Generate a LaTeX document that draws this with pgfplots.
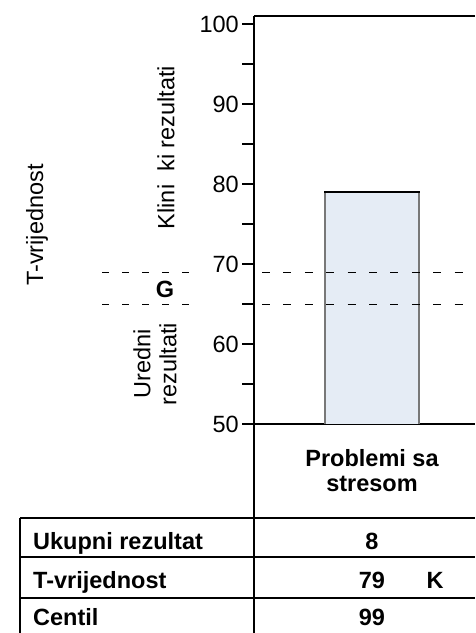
\documentclass[border=0pt]{standalone}
\usepackage{fontspec}
\setmainfont{Liberation Sans}
\usepackage{pgfplots}
\pgfplotsset{compat=1.18}
\definecolor{barfill}{RGB}{229,236,245}
\definecolor{baredge}{RGB}{120,120,120}
\newcommand{\fs}{\fontsize{23.5}{26}\selectfont}
\begin{document}
\begin{tikzpicture}[x=1pt,y=1pt]
\path[use as bounding box] (0,0) rectangle (475,633);
\begin{axis}[
  at={(254pt,209pt)}, anchor=south west,
  scale only axis, width=221pt, height=408pt,
  xmin=0, xmax=221, ymin=50, ymax=101,
  axis lines=left, axis line style={-, line width=1.2pt},
  xtick=\empty,
  ytick={50,60,...,100},
  yticklabels={50,60,70,80,90,100},
  minor ytick={55,65,...,95},
  tick align=outside,
  major tick length=12pt, minor tick length=12pt,
  every tick/.style={black, line width=1.2pt},
  tick label style={font=\fs},
  yticklabel style={inner xsep=3pt},
  clip=false,
]
% bar
\addplot[fill=barfill, draw=none] coordinates {(71,50) (71,79) (165,79) (165,50)} -- cycle;
\addplot[baredge, line width=1.2pt] coordinates {(71,50) (71,79)};
\addplot[baredge, line width=1.2pt] coordinates {(165,50) (165,79)};
\addplot[black, line width=1.2pt] coordinates {(70.4,79) (165.6,79)};
% boundary lines (left part beside the labels, right part across the plot)
\addplot[black, line width=0.9pt, dash pattern=on 7pt off 13pt] coordinates {(-152,69) (-65,69)};
\addplot[black, line width=0.9pt, dash pattern=on 7pt off 13pt] coordinates {(-152,65) (-65,65)};
\addplot[black, line width=0.9pt, dash pattern=on 8pt off 13.4pt] coordinates {(8,69) (209,69)};
\addplot[black, line width=0.9pt, dash pattern=on 8pt off 13.4pt] coordinates {(8,65) (209,65)};
\end{axis}
% frame top and left extension
\draw[line width=1.2pt] (254,617) -- (475,617);
\draw[line width=1.2pt] (254,209) -- (254,0);
% table
\draw[line width=1.2pt] (20,115) -- (475,115);
\draw[line width=1.2pt] (20,76) -- (475,76);
\draw[line width=1.2pt] (20,35) -- (475,35);
\draw[line width=1.2pt] (20,115) -- (20,0);
% side labels
\node[rotate=90, font=\fs] at (37,408) {T-vrijednost};
\node[rotate=90, font=\fs] at (166,485.5) {Klini\ \ ki rezultati};
\node[font=\fs\bfseries] at (165,344) {G};
\node[rotate=90, font=\fs, align=center] at (155,269) {Uredni\\rezultati};
% category label
\node[font=\fs\bfseries, anchor=base] at (372,166) {Problemi sa};
\node[font=\fs\bfseries, anchor=base] at (372,141) {stresom};
% table text
\node[font=\fs\bfseries, anchor=base west, inner sep=0pt] at (33,83) {Ukupni rezultat};
\node[font=\fs\bfseries, anchor=base, inner sep=0pt] at (372,83) {8};
\node[font=\fs\bfseries, anchor=base west, inner sep=0pt] at (33,45) {T-vrijednost};
\node[font=\fs\bfseries, anchor=base, inner sep=0pt] at (372,45) {79};
\node[font=\fs\bfseries, anchor=base, inner sep=0pt] at (435,45) {K};
\node[font=\fs\bfseries, anchor=base west, inner sep=0pt] at (33,8) {Centil};
\node[font=\fs\bfseries, anchor=base, inner sep=0pt] at (372,8) {99};
\end{tikzpicture}
\end{document}
